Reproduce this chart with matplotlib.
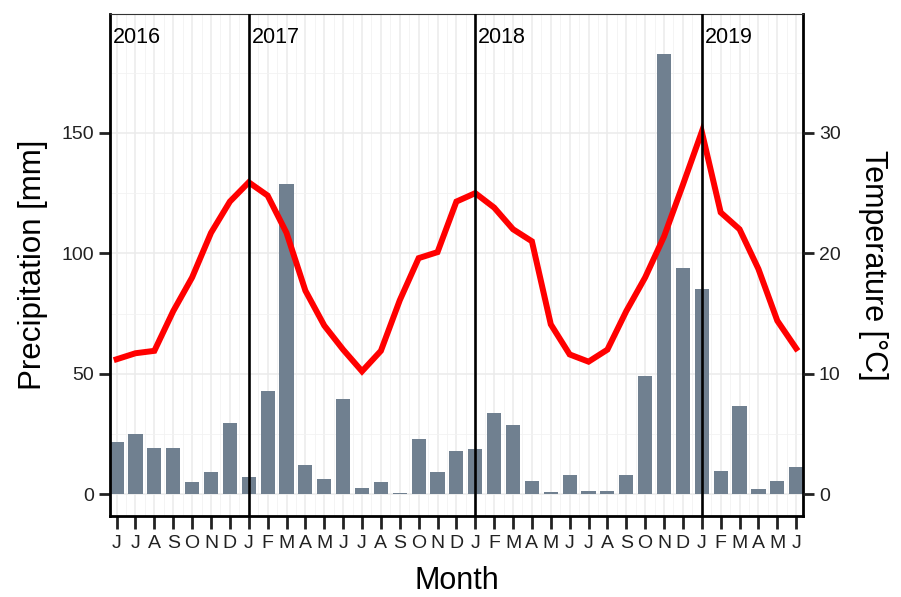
import numpy as np
import matplotlib.pyplot as plt
from matplotlib.ticker import MultipleLocator

plt.rcParams['font.family'] = ['Liberation Sans', 'DejaVu Sans']

# monthly data, June 2016 .. June 2019
month_labels = ['J', 'J', 'A', 'S', 'O', 'N', 'D',
                'J', 'F', 'M', 'A', 'M', 'J', 'J', 'A', 'S', 'O', 'N', 'D',
                'J', 'F', 'M', 'A', 'M', 'J', 'J', 'A', 'S', 'O', 'N', 'D',
                'J', 'F', 'M', 'A', 'M', 'J']
precip = [21.7, 25.1, 19.2, 19.2, 5.0, 9.0, 29.4,
          7.1, 43.0, 128.7, 12.2, 6.2, 39.5, 2.7, 5.0, 0.4, 22.9, 9.0, 18.1,
          18.8, 33.8, 28.5, 5.3, 0.8, 8.0, 1.1, 1.1, 8.0, 49.2, 182.7, 93.9,
          85.2, 9.5, 36.4, 2.0, 5.5, 11.4]
temp = [11.2, 11.7, 11.9, 15.2, 18.0, 21.7, 24.3,
        25.9, 24.8, 21.7, 16.9, 14.0, 12.0, 10.2, 11.9, 16.1, 19.6, 20.1, 24.3,
        25.0, 23.8, 22.0, 21.0, 14.1, 11.6, 11.0, 12.0, 15.2, 18.0, 21.4, 25.7,
        30.1, 23.4, 22.0, 18.7, 14.4, 12.1]
years = ['2016', '2017', '2018', '2019']
year_start = [0, 7, 19, 31]

scale = 5  # 1 degC = 5 mm on the left axis
x = np.arange(len(month_labels))

fig = plt.figure(figsize=(9.01, 5.97), dpi=100)
ax = fig.add_axes([0.1221, 0.1357, 0.7689, 0.8408])

ax.set_xlim(-0.35, len(x) - 0.65)
ax.set_ylim(-9.1, 199.4)

# grid
ax.xaxis.set_minor_locator(MultipleLocator(0.5))
ax.yaxis.set_major_locator(MultipleLocator(50))
ax.yaxis.set_minor_locator(MultipleLocator(25))
ax.grid(which='major', color='#ebebeb', linewidth=1.1)
ax.grid(which='minor', color='#f2f2f2', linewidth=0.6)
ax.set_axisbelow(True)

ax.bar(x, precip, width=0.75, color='#708090', zorder=2)
ax.plot(x, np.array(temp) * scale, color='#ff0000', linewidth=4.3,
        solid_joinstyle='miter', zorder=3)

for yr, i in zip(years, year_start):
    if i > 0:
        ax.axvline(i, color='black', linewidth=1.9, zorder=4)
        ax.text(i + 0.15, 189.5, yr, fontsize=15.5, ha='left', va='center', zorder=5)
    else:
        ax.text(-0.2, 189.5, yr, fontsize=15.5, ha='left', va='center', zorder=5)

ax.set_xticks(x)
ax.set_xticklabels(month_labels)
ax.set_yticks([0, 50, 100, 150])
ax.tick_params(axis='both', which='major', length=8, width=2, labelsize=14,
               color='#222222', labelcolor='#222222')
ax.tick_params(axis='x', which='major', length=9, pad=5)
ax.tick_params(axis='both', which='minor', length=0)

for side in ['left', 'bottom', 'right']:
    ax.spines[side].set_linewidth(2)
    ax.spines[side].set_color('black')
ax.spines['top'].set_linewidth(0.8)
ax.spines['top'].set_color('#333333')

ax.set_xlabel('Month', fontsize=22, labelpad=10)
ax.set_ylabel('Precipitation [mm]', fontsize=22.5, labelpad=10)

ax2 = ax.twinx()
ax2.set_ylim(-9.1 / scale, 199.4 / scale)
ax2.set_yticks([0, 10, 20, 30])
ax2.tick_params(axis='y', length=8, width=2, labelsize=14,
                color='#222222', labelcolor='#222222')
for s in ax2.spines.values():
    s.set_visible(False)
ax2.set_ylabel('Temperature [°C]', fontsize=22, rotation=270, labelpad=34)

fig.savefig('out.png', dpi=100)
